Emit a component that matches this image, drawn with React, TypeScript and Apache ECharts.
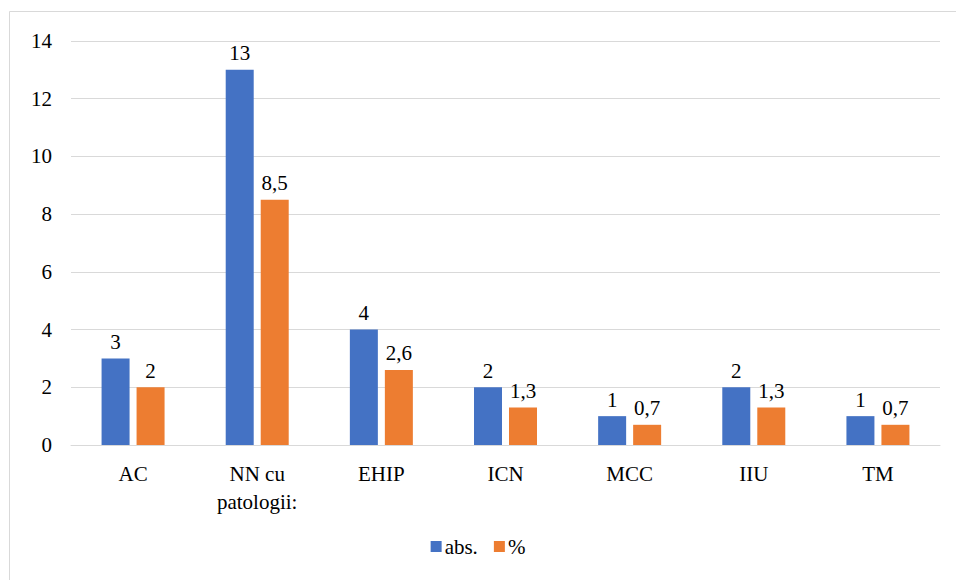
import React, { useEffect, useRef } from "react";
import * as echarts from "echarts";

const categories = ["AC", "NN cu\npatologii:", "EHIP", "ICN", "MCC", "IIU", "TM"];
const absValues = [3, 13, 4, 2, 1, 2, 1];
const pctValues = [2, 8.5, 2.6, 1.3, 0.7, 1.3, 0.7];
const seriesNames = ["abs.", "%"];

const FONT = "Times New Roman, Liberation Serif, serif";
const FS = 21;

export default function App() {
  const ref = useRef<HTMLDivElement>(null);
  useEffect(() => {
    if (!ref.current) return;
    const chart = echarts.init(ref.current, undefined, { renderer: "svg" });
    const label = {
      show: true,
      position: "top" as const,
      distance: 6,
      fontFamily: FONT,
      fontSize: FS,
      color: "#000",
      formatter: (p: any) => String(p.value).replace(".", ","),
    };
    chart.setOption({
      animation: false,
      backgroundColor: "#fff",
      textStyle: { fontFamily: FONT },
      graphic: [
        {
          type: "rect",
          shape: { x: 9.5, y: 11.5, width: 960, height: 600 },
          style: { fill: "none", stroke: "#d9d9d9", lineWidth: 1 },
          silent: true,
        },
      ],
      grid: { left: 71, right: 16, top: 41, bottom: 135, containLabel: false },
      legend: {
        data: seriesNames,
        bottom: 18,
        left: "center",
        itemWidth: 11,
        itemHeight: 11,
        itemGap: 16,
        icon: "rect",
        textStyle: { fontFamily: FONT, fontSize: FS, color: "#000", padding: [0, 0, 0, -2] },
      },
      xAxis: {
        type: "category",
        data: categories,
        axisLine: { show: true, lineStyle: { color: "#d9d9d9", width: 1 } },
        axisTick: { show: false },
        axisLabel: {
          fontFamily: FONT,
          fontSize: FS,
          color: "#000",
          margin: 15,
          lineHeight: 28,
        },
      },
      yAxis: {
        type: "value",
        min: 0,
        max: 14,
        interval: 2,
        axisLine: { show: false },
        axisTick: { show: false },
        splitLine: { lineStyle: { color: "#d9d9d9", width: 1 } },
        axisLabel: { fontFamily: FONT, fontSize: FS, color: "#000", margin: 19 },
      },
      series: [
        {
          name: seriesNames[0],
          type: "bar",
          data: absValues,
          barWidth: 28,
          barGap: "25%",
          itemStyle: { color: "#4472C4" },
          label,
        },
        {
          name: seriesNames[1],
          type: "bar",
          data: pctValues,
          barWidth: 28,
          itemStyle: { color: "#ED7D31" },
          label,
        },
      ],
    });
    return () => chart.dispose();
  }, []);
  return (
    <div
      ref={ref}
      style={{ position: "fixed", left: 0, top: 0, width: 956, height: 580 }}
    />
  );
}
